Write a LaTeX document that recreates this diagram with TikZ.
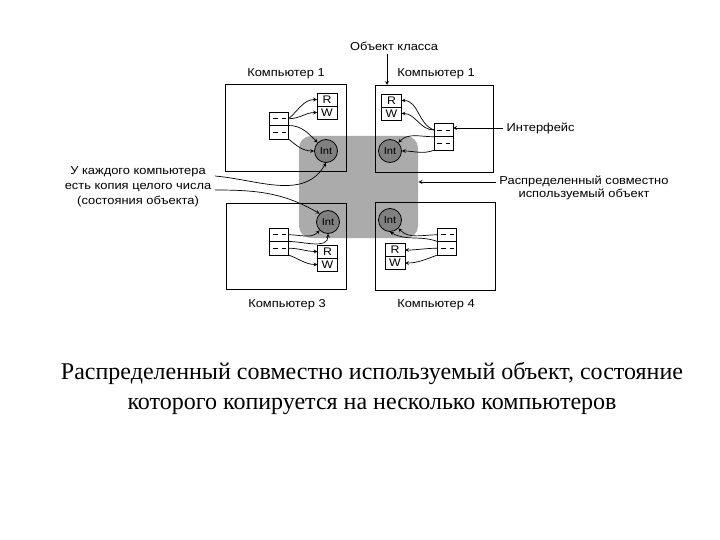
\documentclass[tikz,border=0pt]{standalone}
\usepackage{fontspec}
\setmainfont{Liberation Serif}
\newfontfamily\labfont{Liberation Sans}[FakeStretch=1.12]
\usetikzlibrary{arrows}
\usetikzlibrary{positioning}

\begin{document}
\begin{tikzpicture}[x=1pt, y=-1pt, line width=0.8pt, >=stealth,
  lab/.style={font=\labfont\fontsize{11.5}{15}\selectfont},
  intc/.style={circle, draw, fill=black!50, minimum size=23pt, inner sep=0pt, font=\labfont\fontsize{10}{10}\selectfont},
  rwbox/.style={draw, fill=white, minimum width=20pt, minimum height=13pt, inner sep=0pt, outer sep=0pt, font=\labfont\fontsize{11}{11}\selectfont},
  ifbox/.style={draw, fill=white, minimum width=19pt, minimum height=13.5pt, inner sep=0pt, outer sep=0pt},
  link/.style={->, line width=0.7pt}]

\useasboundingbox (0,0) rectangle (720,540);

\node[fill=black!33, rounded corners=12pt, minimum width=119pt, minimum height=102pt] (obj) at (358.5,187) {};

\foreach \xa/\ya/\xb/\yb in {225/84/346/171, 375/85/493/172, 226/203/346/289, 375/202/495/290}
    \draw (\xa,\ya) rectangle (\xb,\yb);

\foreach \n/\x/\y in {1/326/151, 2/390/151, 3/328/222, 4/390/220}
    \node[intc] (i\n) at (\x,\y) {Int};

\foreach \n/\x/\y in {1/327/99.5, 2/391.5/100.5, 3/327.5/251.5, 4/395/250}{
    \node[rwbox] (r\n) at (\x,\y) {R};
    \node[rwbox, below=0pt of r\n] (w\n) {W};
}

\foreach \n/\x/\y in {1/279/118.75, 2/443.5/130, 3/279/234.75, 4/447/234.75}{
    \node[ifbox] (fa\n) at (\x,\y) {};
    \node[ifbox, below=0pt of fa\n] (fb\n) {};
    \draw[dash pattern=on 5pt off 4pt] ([xshift=3pt]fa\n.west) -- ([xshift=-3pt]fa\n.east);
    \draw[dash pattern=on 5pt off 4pt] ([xshift=3pt]fb\n.west) -- ([xshift=-3pt]fb\n.east);
}

\draw[link] (fa1.east) to[out=40,in=180] (r1.west);
\draw[link] (fa1.east) to[out=0,in=180] (w1.west);
\draw[link] (fb1.north east) to[out=0,in=135] (i1.north west);
\draw[link] (fb1.south east) to[out=-40,in=180] (i1.west);

\draw[link] (fa2.west) to[out=160,in=0] (r2.east);
\draw[link] (fa2.west) to[out=180,in=0] (w2.east);
\draw[link] (fb2.north west) to[out=180,in=45] (i2.north east);
\draw[link] (fb2.south west) to[out=200,in=0] (i2.east);

\draw[link] (fa3.east) to[out=0,in=225] (i3.south west);
\draw[link] (fb3.north east) to[out=0,in=-90] (i3.south);
\draw[link] (fb3.east) to[out=0,in=180] (r3.west);
\draw[link] (fb3.south east) to[out=-20,in=180] (w3.west);

\draw[link] (fa4.west) to[out=180,in=-45] (i4.south east);
\draw[link] (fb4.north west) to[out=160,in=-30] (i4.south);
\draw[link] (fb4.west) to[out=180,in=0] (r4.east);
\draw[link] (fb4.south west) to[out=200,in=0] (w4.east);

\node[lab] (c1) at (286,74) {Компьютер 1};
\node[lab] (c2) at (436,74) {Компьютер 1};
\node[lab] (c3) at (287,305) {Компьютер 3};
\node[lab] (c4) at (436,305) {Компьютер 4};

\node[lab] (cls) at (394,46) {Объект класса};
\draw[->, shorten >=9pt] ([xshift=-7pt]cls.south) -- ([xshift=-4.5pt]r2.north);

\node[lab, anchor=west] (ifc) at (503,128) {Интерфейс};
\draw[->] (ifc.west) -- (ifc.west -| fa2.east);

\node[lab, align=center, font=\labfont\fontsize{11.5}{13}\selectfont] (shr) at (584,188) {Распределенный совместно\\используемый объект};
\draw[->] ([yshift=6pt]shr.west) -- ([yshift=6pt]shr.west -| obj.east);

\node[lab, align=center] (cpy) at (138,187) {У каждого компьютера\\есть копия целого числа\\(состояния объекта)};
\draw[link] ([yshift=11pt]cpy.east) to[out=-5,in=-120] (i1.south);
\draw[link] ([yshift=-3pt]cpy.east) to[out=0,in=150] (i3.north west);

\node[font=\fontsize{24}{30}\selectfont, align=center] (cap) at (372,388) {Распределенный совместно используемый объект, состояние\\которого копируется на несколько компьютеров};
\end{tikzpicture}
\end{document}
